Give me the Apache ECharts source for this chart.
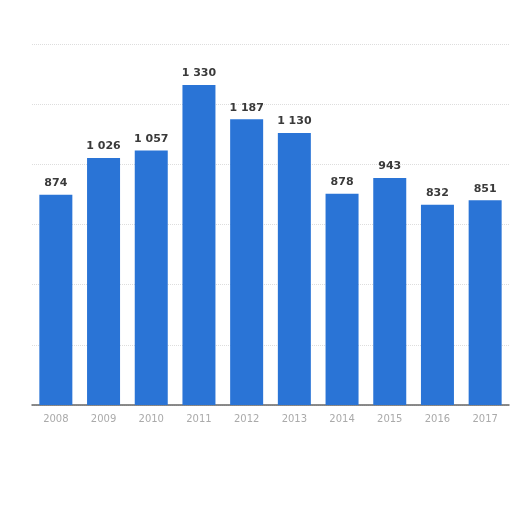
<!DOCTYPE html>
<html>
<head>
<meta charset="utf-8">
<script src="https://cdn.jsdelivr.net/npm/echarts@6/dist/echarts.min.js"></script>
<style>
  html, body { margin: 0; padding: 0; background: #fff; }
  #chart { width: 512px; height: 512px; }
</style>
</head>
<body>
<div id="chart"></div>
<script>
var years = ['2008', '2009', '2010', '2011', '2012', '2013', '2014', '2015', '2016', '2017']
var values = [874, 1026, 1057, 1330, 1187, 1130, 878, 943, 832, 851]

function spaced(n) {
  return String(n).replace(/\B(?=(\d{3})+(?!\d))/g, ' ')
}

var chart = echarts.init(document.getElementById('chart'))
chart.setOption({
  animation: false,
  grid: {
    left: 32,
    right: 3,
    top: 44,
    bottom: 107
  },
  xAxis: {
    type: 'category',
    data: years,
    axisTick: { show: false },
    axisLine: { lineStyle: { color: '#666', width: 1.5 } },
    axisLabel: {
      color: '#aaa',
      fontSize: 10,
      fontFamily: 'DejaVu Sans',
      margin: 9
    }
  },
  yAxis: {
    type: 'value',
    min: 0,
    max: 1500,
    interval: 250,
    axisLabel: { show: false },
    axisLine: { show: false },
    axisTick: { show: false },
    splitLine: {
      show: true,
      lineStyle: { color: '#ddd', type: 'dotted' } // faint grid
    }
  },
  series: [
    {
      type: 'bar',
      data: values,
      barWidth: 33,
      itemStyle: { color: '#2a74d6' },
      label: {
        show: true,
        position: 'top',
        distance: 6,
        color: '#3a3a3a',
        fontSize: 11,
        fontWeight: 'bold',
        fontFamily: 'DejaVu Sans',
        formatter: function (p) { return spaced(p.value) }
      }
    }
  ]
})
</script>
</body>
</html>
